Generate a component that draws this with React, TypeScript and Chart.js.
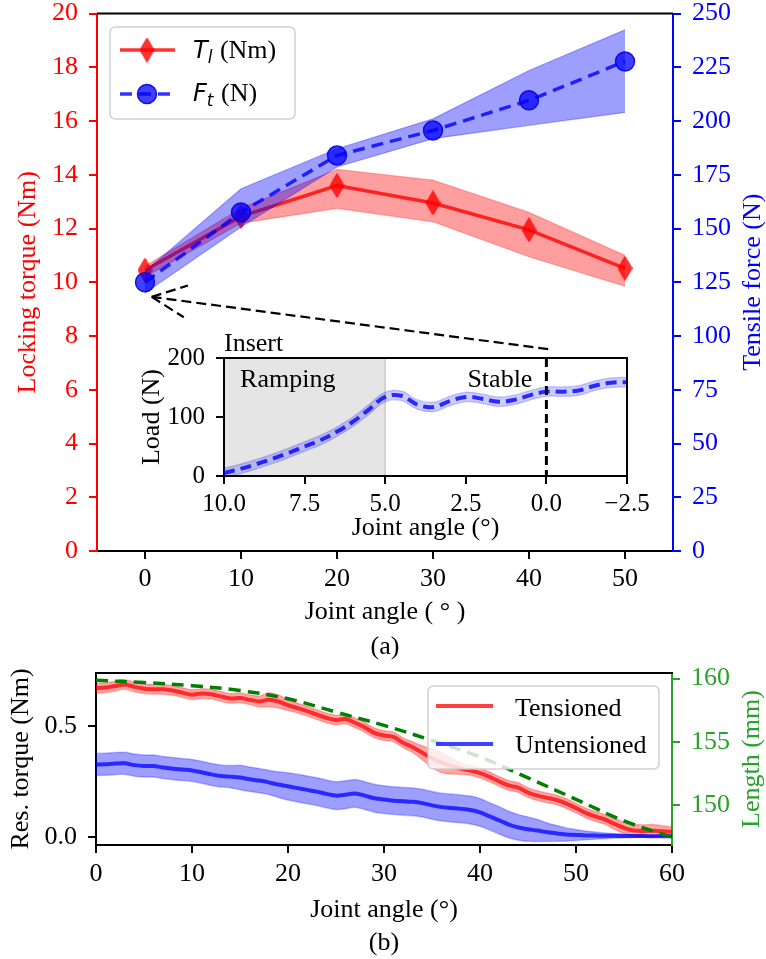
import React, { useEffect, useRef } from "react";
import { Chart, registerables } from "chart.js";

Chart.register(...registerables);

const SERIF = '"Liberation Serif", "Times New Roman", serif';
const MATH = '"DejaVu Sans", sans-serif';

// ---------------- (a) main chart data ----------------
const jointAngleA = [0, 10, 20, 30, 40, 50];
const torqueMean = [10.45, 12.45, 13.6, 12.95, 11.95, 10.52];
const torqueLow = [10.2, 12.2, 12.75, 12.25, 10.95, 9.85];
const torqueHigh = [10.6, 12.75, 14.2, 13.8, 12.6, 11.0];
const forceMean = [125, 157.5, 184, 195.6, 209.6, 227.7];
const forceLow = [120, 150.7, 178.6, 191.8, 198, 204];
const forceHigh = [130, 168.5, 187.1, 201, 223.5, 242.4];
const xTicksA = [0, 10, 20, 30, 40, 50];
const torqueTicks = [0, 2, 4, 6, 8, 10, 12, 14, 16, 18, 20];
const forceTicks = [0, 25, 50, 75, 100, 125, 150, 175, 200, 225, 250];
const arrowTip = { x: 0.7, y: 118.2 };
const arrowTail = { x: 42, y: 93.9 };

// ---------------- inset data ----------------
const insetAngle = [10, 9.5, 9, 8.5, 8, 7.5, 7, 6.5, 6, 5.5, 5, 4.5, 4, 3.5, 3, 2.5, 2, 1.5, 1, 0.5, 0, -0.5, -1, -1.5, -2, -2.5];
const insetLoad = [5, 12, 20, 29, 39, 50, 61, 75, 92, 113, 134, 136, 121, 117, 127, 134, 131, 126, 129, 137, 143, 143, 145, 153, 158, 159];
const insetLoadStd = [8, 8, 8, 8, 8, 8, 8, 8, 8, 8, 8, 8, 8, 8, 8, 8, 8, 8, 8, 8, 8, 8, 8, 8, 8, 8];
const insetTicksX = [10, 7.5, 5, 2.5, 0, -2.5];
const insetTicksY = [0, 100, 200];
const rampStart = 10;
const rampEnd = 5;
const stableMark = 0;

// ---------------- (b) bottom chart data ----------------
const jointAngleB = [
  0, 1, 2, 3, 4, 5, 6, 7, 8, 9, 10, 11, 12, 13, 14, 15, 16, 17, 18, 19, 20,
  21, 22, 23, 24, 25, 26, 27, 28, 29, 30, 31, 32, 33, 34, 35, 36, 37, 38, 39, 40,
  41, 42, 43, 44, 45, 46, 47, 48, 49, 50, 51, 52, 53, 54, 55, 56, 57, 58, 59, 60,
];
const tensionedMean = [
  0.672, 0.675, 0.682, 0.689, 0.678, 0.670, 0.667, 0.667, 0.662, 0.652,
  0.643, 0.648, 0.645, 0.635, 0.626, 0.628, 0.620, 0.612, 0.620, 0.612,
  0.595, 0.582, 0.568, 0.553, 0.538, 0.528, 0.533, 0.515, 0.495, 0.470,
  0.458, 0.452, 0.425, 0.405, 0.380, 0.355, 0.335, 0.320, 0.308, 0.300,
  0.288, 0.271, 0.250, 0.232, 0.222, 0.200, 0.186, 0.176, 0.166, 0.150,
  0.130, 0.108, 0.092, 0.078, 0.058, 0.040, 0.028, 0.026, 0.027, 0.025, 0.022,
];
const tensionedStd = [
  0.022, 0.022, 0.022, 0.022, 0.022, 0.022, 0.022, 0.022, 0.022, 0.022,
  0.022, 0.022, 0.022, 0.022, 0.022, 0.022, 0.022, 0.025, 0.032, 0.030,
  0.024, 0.022, 0.022, 0.022, 0.022, 0.022, 0.022, 0.022, 0.022, 0.022,
  0.022, 0.022, 0.022, 0.024, 0.032, 0.042, 0.045, 0.036, 0.026, 0.022,
  0.022, 0.022, 0.022, 0.022, 0.022, 0.022, 0.022, 0.022, 0.022, 0.022,
  0.022, 0.022, 0.022, 0.022, 0.024, 0.026, 0.028, 0.028, 0.028, 0.025, 0.022,
];
const untensionedMean = [
  0.327, 0.328, 0.331, 0.332, 0.324, 0.320, 0.320, 0.313, 0.308, 0.304,
  0.300, 0.292, 0.282, 0.275, 0.272, 0.268, 0.260, 0.254, 0.246, 0.236,
  0.228, 0.220, 0.212, 0.204, 0.194, 0.186, 0.190, 0.196, 0.186, 0.174,
  0.168, 0.163, 0.160, 0.158, 0.152, 0.142, 0.134, 0.130, 0.126, 0.121,
  0.110, 0.092, 0.074, 0.055, 0.042, 0.034, 0.028, 0.020, 0.015, 0.010,
  0.008, 0.006, 0.005, 0.004, 0.004, 0.003, 0.003, 0.003, 0.002, 0.002, 0.002,
];
const untensionedStd = [
  0.050, 0.050, 0.050, 0.050, 0.050, 0.050, 0.050, 0.050, 0.050, 0.050,
  0.050, 0.050, 0.050, 0.050, 0.050, 0.055, 0.055, 0.055, 0.055, 0.058,
  0.062, 0.063, 0.063, 0.063, 0.063, 0.063, 0.063, 0.063, 0.063, 0.063,
  0.063, 0.063, 0.063, 0.063, 0.063, 0.063, 0.063, 0.063, 0.063, 0.063,
  0.063, 0.062, 0.062, 0.060, 0.058, 0.055, 0.050, 0.042, 0.036, 0.030,
  0.025, 0.020, 0.016, 0.013, 0.010, 0.008, 0.006, 0.005, 0.004, 0.003, 0.002,
];
const lengthAngle = [0, 5, 10, 15, 20, 25, 30, 35, 40, 45, 50, 55, 60];
const lengthMm = [159.87, 159.68, 159.44, 159.05, 158.4, 157.35, 156.3, 155.1, 153.8, 152.15, 150.45, 148.75, 147.45];
const xTicksB = [0, 10, 20, 30, 40, 50, 60];
const resTorqueTicks = [0, 0.5];
const lengthTicks = [150, 155, 160];

// ---------------- helpers ----------------
const RED = "#ff0000";
const BLUE = "#0000ff";
const GREEN_AX = "#2ca02c";
const GREEN_LINE = "#008000";

const toPts = (xs: number[], ys: number[]) => xs.map((x, i) => ({ x, y: ys[i] }));
const shift = (m: number[], s: number[], k: number) => m.map((v, i) => v + k * s[i]);

function yAxis(o: any) {
  return {
    type: "linear",
    position: o.position,
    min: o.min,
    max: o.max,
    reverse: !!o.reverse,
    afterBuildTicks: (s: any) => {
      s.ticks = o.ticks.map((v: number) => ({ value: v }));
    },
    afterFit: (s: any) => {
      s.width = o.width;
      s.paddingTop = 0;
      s.paddingBottom = 0;
      s.paddingLeft = 0;
      s.paddingRight = 0;
    },
    ticks: {
      color: o.color,
      padding: o.pad,
      autoSkip: false,
      font: { family: SERIF, size: o.font, lineHeight: 1 },
      callback: (v: any) => o.fmt(Number(v)),
    },
    grid: {
      display: true,
      drawOnChartArea: false,
      drawTicks: true,
      tickLength: 8,
      tickWidth: 2,
      lineWidth: 2,
      tickColor: o.borderColor || o.color,
      color: o.borderColor || o.color,
    },
    border: { display: true, color: o.borderColor || o.color, width: 2 },
  };
}

function xAxis(o: any) {
  return {
    type: "linear",
    position: "bottom",
    min: o.min,
    max: o.max,
    reverse: !!o.reverse,
    afterBuildTicks: (s: any) => {
      s.ticks = o.ticks.map((v: number) => ({ value: v }));
    },
    afterFit: (s: any) => {
      s.height = o.height;
      s.paddingTop = 0;
      s.paddingBottom = 0;
      s.paddingLeft = 0;
      s.paddingRight = 0;
    },
    ticks: {
      color: "#000",
      padding: o.pad,
      autoSkip: false,
      maxRotation: 0,
      minRotation: 0,
      font: { family: SERIF, size: o.font },
      callback: (v: any) => o.fmt(Number(v)),
    },
    grid: {
      display: true,
      drawOnChartArea: false,
      drawTicks: true,
      tickLength: 8,
      tickWidth: 2,
      lineWidth: 2,
      tickColor: "#000",
      color: "#000",
    },
    border: { display: true, color: "#000", width: 2 },
  };
}

function line(ctx: CanvasRenderingContext2D, x1: number, y1: number, x2: number, y2: number, color: string, w: number, dash: number[] = []) {
  ctx.save();
  ctx.strokeStyle = color;
  ctx.lineWidth = w;
  ctx.setLineDash(dash);
  ctx.beginPath();
  ctx.moveTo(x1, y1);
  ctx.lineTo(x2, y2);
  ctx.stroke();
  ctx.restore();
}

function text(ctx: CanvasRenderingContext2D, s: string, x: number, y: number, font: string, color: string, align: CanvasTextAlign = "center", baseline: CanvasTextBaseline = "middle", rot = 0) {
  ctx.save();
  ctx.translate(x, y);
  if (rot) ctx.rotate(rot);
  ctx.font = font;
  ctx.fillStyle = color;
  ctx.textAlign = align;
  ctx.textBaseline = baseline;
  ctx.fillText(s, 0, 0);
  ctx.restore();
}

function legendBox(ctx: CanvasRenderingContext2D, x: number, y: number, w: number, h: number) {
  const r = 6;
  ctx.save();
  ctx.beginPath();
  ctx.moveTo(x + r, y);
  ctx.lineTo(x + w - r, y);
  ctx.quadraticCurveTo(x + w, y, x + w, y + r);
  ctx.lineTo(x + w, y + h - r);
  ctx.quadraticCurveTo(x + w, y + h, x + w - r, y + h);
  ctx.lineTo(x + r, y + h);
  ctx.quadraticCurveTo(x, y + h, x, y + h - r);
  ctx.lineTo(x, y + r);
  ctx.quadraticCurveTo(x, y, x + r, y);
  ctx.closePath();
  ctx.fillStyle = "rgba(255,255,255,0.8)";
  ctx.fill();
  ctx.strokeStyle = "rgba(204,204,204,0.9)";
  ctx.lineWidth = 1.5;
  ctx.stroke();
  ctx.restore();
}

function mathLabel(ctx: CanvasRenderingContext2D, x: number, base: number, main: string, sub: string, rest: string) {
  ctx.save();
  ctx.fillStyle = "#000";
  ctx.textAlign = "left";
  ctx.textBaseline = "alphabetic";
  ctx.font = `italic 24px ${MATH}`;
  ctx.fillText(main, x, base);
  const w1 = ctx.measureText(main).width;
  ctx.font = `italic 17px ${MATH}`;
  ctx.fillText(sub, x + w1, base + 5);
  const w2 = ctx.measureText(sub).width;
  ctx.font = `26px ${SERIF}`;
  ctx.fillText(rest, x + w1 + w2 + 1, base);
  ctx.restore();
}

function makeDiamond(): HTMLCanvasElement {
  const c = document.createElement("canvas");
  c.width = 15;
  c.height = 25;
  const g = c.getContext("2d")!;
  g.beginPath();
  g.moveTo(7.5, 0.5);
  g.lineTo(14.5, 12.5);
  g.lineTo(7.5, 24.5);
  g.lineTo(0.5, 12.5);
  g.closePath();
  g.fillStyle = "rgba(255,0,0,0.8)";
  g.fill();
  g.strokeStyle = "rgba(255,0,0,0.9)";
  g.lineWidth = 1;
  g.stroke();
  return c;
}

const baseOpts = {
  responsive: false,
  animation: false as const,
  devicePixelRatio: 1,
  events: [] as any[],
  plugins: { legend: { display: false }, tooltip: { enabled: false } },
};

// ---------------- chart builders ----------------
function buildMain(canvas: HTMLCanvasElement) {
  const diamond = makeDiamond();
  const decor = {
    id: "mainDecor",
    afterDraw(chart: any) {
      const { ctx, chartArea: a, scales } = chart;
      const x = scales.x;
      const y1 = scales.y1;
      line(ctx, a.left, a.top, a.right, a.top, "#000", 2);

      // annotation arrow
      const tx = x.getPixelForValue(arrowTip.x);
      const ty = y1.getPixelForValue(arrowTip.y);
      const ex = x.getPixelForValue(arrowTail.x);
      const ey = y1.getPixelForValue(arrowTail.y);
      line(ctx, ex, ey, tx, ty, "#000", 2.2, [10, 5]);
      const th = Math.atan2(ey - ty, ex - tx);
      const hl = 38;
      const da = (25 * Math.PI) / 180;
      line(ctx, tx, ty, tx + hl * Math.cos(th - da), ty + hl * Math.sin(th - da), "#000", 2.2, [10, 5]);
      line(ctx, tx, ty, tx + hl * Math.cos(th + da), ty + hl * Math.sin(th + da), "#000", 2.2, [10, 5]);

      // axis titles
      const midY = (a.top + a.bottom) / 2;
      const midX = (a.left + a.right) / 2;
      text(ctx, "Locking torque (Nm)", 28, midY, `26px ${SERIF}`, RED, "center", "middle", -Math.PI / 2);
      text(ctx, "Tensile force (N)", 753, midY, `26px ${SERIF}`, BLUE, "center", "middle", -Math.PI / 2);
      text(ctx, "Joint angle ( \u00B0 )", midX, 612, `26px ${SERIF}`, "#000");
      text(ctx, "(a)", midX, 647, `26px ${SERIF}`, "#000");

      // legend
      legendBox(ctx, 110, 27, 185, 92);
      line(ctx, 120, 50, 175, 50, "rgba(255,0,0,0.8)", 3.5);
      ctx.drawImage(diamond, 147 - 7.5, 50 - 12.5);
      mathLabel(ctx, 193, 58, "T", "l", " (Nm)");
      line(ctx, 120, 94, 175, 94, "rgba(0,0,255,0.8)", 3.5, [12, 7]);
      ctx.save();
      ctx.beginPath();
      ctx.arc(147, 94, 9.5, 0, Math.PI * 2);
      ctx.fillStyle = "rgba(0,0,255,0.75)";
      ctx.fill();
      ctx.strokeStyle = "rgba(0,0,220,0.9)";
      ctx.lineWidth = 1.5;
      ctx.stroke();
      ctx.restore();
      mathLabel(ctx, 193, 101, "F", "t", " (N)");
    },
  };

  return new Chart(canvas, {
    type: "line",
    data: {
      datasets: [
        {
          data: toPts(jointAngleA, torqueHigh),
          yAxisID: "y",
          fill: "+1",
          backgroundColor: "rgba(255,0,0,0.38)",
          borderColor: "rgba(255,0,0,0.3)",
          borderWidth: 1.2,
          pointRadius: 0,
          order: 6,
        },
        {
          data: toPts(jointAngleA, torqueLow),
          yAxisID: "y",
          fill: false,
          borderColor: "rgba(255,0,0,0.3)",
          borderWidth: 1.2,
          pointRadius: 0,
          order: 6,
        },
        {
          data: toPts(jointAngleA, torqueMean),
          yAxisID: "y",
          fill: false,
          borderColor: "rgba(255,0,0,0.8)",
          borderWidth: 3.5,
          pointStyle: diamond as any,
          pointRadius: 10,
          order: 5,
        },
        {
          data: toPts(jointAngleA, forceHigh),
          yAxisID: "y1",
          fill: "+1",
          backgroundColor: "rgba(0,0,255,0.38)",
          borderColor: "rgba(0,0,255,0.3)",
          borderWidth: 1.2,
          pointRadius: 0,
          order: 4,
        },
        {
          data: toPts(jointAngleA, forceLow),
          yAxisID: "y1",
          fill: false,
          borderColor: "rgba(0,0,255,0.3)",
          borderWidth: 1.2,
          pointRadius: 0,
          order: 4,
        },
        {
          data: toPts(jointAngleA, forceMean),
          yAxisID: "y1",
          fill: false,
          borderColor: "rgba(0,0,255,0.8)",
          borderWidth: 3.5,
          borderDash: [12, 7],
          pointStyle: "circle",
          pointRadius: 9.5,
          pointBackgroundColor: "rgba(0,0,255,0.75)",
          pointBorderColor: "rgba(0,0,220,0.9)",
          pointBorderWidth: 1.5,
          order: 3,
        },
      ],
    } as any,
    options: {
      ...baseOpts,
      layout: { padding: { top: 13, left: 0, right: 0, bottom: 0 } },
      scales: {
        x: xAxis({ min: -5, max: 55, ticks: xTicksA, fmt: (v: number) => String(v), height: 109, font: 26, pad: 5 }),
        y: yAxis({ position: "left", min: 0, max: 20, ticks: torqueTicks, fmt: (v: number) => String(v), color: RED, width: 97, font: 26, pad: 11 }),
        y1: yAxis({ position: "right", min: 0, max: 250, ticks: forceTicks, fmt: (v: number) => String(v), color: BLUE, width: 93, font: 26, pad: 11 }),
      },
    } as any,
    plugins: [decor],
  });
}

function buildInset(canvas: HTMLCanvasElement) {
  const decor = {
    id: "insetDecor",
    beforeDraw(chart: any) {
      const { ctx, chartArea: a, scales } = chart;
      ctx.save();
      ctx.fillStyle = "#fff";
      ctx.fillRect(a.left, a.top, a.right - a.left, a.bottom - a.top);
      const x0 = scales.x.getPixelForValue(rampStart);
      const x1 = scales.x.getPixelForValue(rampEnd);
      ctx.fillStyle = "#e5e5e5";
      ctx.fillRect(Math.min(x0, x1), a.top, Math.abs(x1 - x0), a.bottom - a.top);
      ctx.restore();
      line(ctx, x1, a.top, x1, a.bottom, "#cccccc", 1.5);
    },
    afterDatasetsDraw(chart: any) {
      const { ctx, chartArea: a, scales } = chart;
      const xs = scales.x.getPixelForValue(stableMark);
      line(ctx, xs, a.top, xs, a.bottom, "#000", 3, [9, 5]);
    },
    afterDraw(chart: any) {
      const { ctx, chartArea: a, scales } = chart;
      line(ctx, a.left - 1, a.top, a.right + 1, a.top, "#000", 2);
      line(ctx, a.right, a.top, a.right, a.bottom, "#000", 2);
      const xs = scales.x;
      const ys = scales.y;
      text(ctx, "Insert", xs.getPixelForValue(10), ys.getPixelForValue(224), `26px ${SERIF}`, "#000", "left");
      text(ctx, "Ramping", xs.getPixelForValue(9.5), ys.getPixelForValue(162), `26px ${SERIF}`, "#000", "left");
      text(ctx, "Stable", xs.getPixelForValue(2.45), ys.getPixelForValue(162), `26px ${SERIF}`, "#000", "left");
      text(ctx, "Load (N)", 12, (a.top + a.bottom) / 2, `26px ${SERIF}`, "#000", "center", "middle", -Math.PI / 2);
      text(ctx, "Joint angle (\u00B0)", (a.left + a.right) / 2, 198, `26px ${SERIF}`, "#000");
    },
  };

  return new Chart(canvas, {
    type: "line",
    data: {
      datasets: [
        {
          data: toPts(insetAngle, shift(insetLoad, insetLoadStd, 1)),
          fill: "+1",
          backgroundColor: "rgba(0,0,255,0.2)",
          borderColor: "rgba(0,0,255,0.18)",
          borderWidth: 1.5,
          pointRadius: 0,
          tension: 0.4,
          order: 3,
        },
        {
          data: toPts(insetAngle, shift(insetLoad, insetLoadStd, -1)),
          fill: false,
          borderColor: "rgba(0,0,255,0.18)",
          borderWidth: 1.5,
          pointRadius: 0,
          tension: 0.4,
          order: 3,
        },
        {
          data: toPts(insetAngle, insetLoad),
          fill: false,
          borderColor: "rgba(0,0,255,0.8)",
          borderWidth: 4,
          borderDash: [11, 6],
          pointRadius: 0,
          tension: 0.4,
          order: 2,
        },
      ],
    } as any,
    options: {
      ...baseOpts,
      layout: { padding: { top: 28, right: 33, left: 0, bottom: 0 } },
      scales: {
        x: xAxis({
          min: -2.5,
          max: 10,
          reverse: true,
          ticks: insetTicksX,
          fmt: (v: number) => v.toFixed(1).replace("-", "\u2212"),
          height: 69,
          font: 25,
          pad: 5,
        }),
        y: yAxis({ position: "left", min: 0, max: 200, ticks: insetTicksY, fmt: (v: number) => String(v), color: "#000", width: 84, font: 25, pad: 11 }),
      },
    } as any,
    plugins: [decor],
  });
}

function buildBottom(canvas: HTMLCanvasElement) {
  const decor = {
    id: "bottomDecor",
    afterDraw(chart: any) {
      const { ctx, chartArea: a } = chart;
      line(ctx, a.left - 1, a.top, a.right + 1, a.top, "#000", 2);
      const midY = (a.top + a.bottom) / 2;
      const midX = (a.left + a.right) / 2;
      text(ctx, "Res. torque (Nm)", 21, midY, `26px ${SERIF}`, "#000", "center", "middle", -Math.PI / 2);
      text(ctx, "Length (mm)", 752, midY, `26px ${SERIF}`, GREEN_AX, "center", "middle", -Math.PI / 2);
      text(ctx, "Joint angle (\u00B0)", midX, 250, `26px ${SERIF}`, "#000");
      text(ctx, "(b)", midX, 283, `26px ${SERIF}`, "#000");

      legendBox(ctx, 428, 26, 231, 83);
      line(ctx, 436, 46, 493, 46, "rgba(255,0,0,0.75)", 4);
      text(ctx, "Tensioned", 515, 56, `26px ${SERIF}`, "#000", "left", "alphabetic");
      line(ctx, 436, 84, 493, 84, "rgba(0,0,255,0.75)", 4);
      text(ctx, "Untensioned", 515, 93, `26px ${SERIF}`, "#000", "left", "alphabetic");
    },
  };

  return new Chart(canvas, {
    type: "line",
    data: {
      datasets: [
        {
          data: toPts(jointAngleB, shift(tensionedMean, tensionedStd, 1)),
          yAxisID: "y",
          fill: "+1",
          backgroundColor: "rgba(255,0,0,0.35)",
          borderColor: "rgba(255,0,0,0.25)",
          borderWidth: 1.5,
          pointRadius: 0,
          tension: 0.3,
          order: 8,
        },
        {
          data: toPts(jointAngleB, shift(tensionedMean, tensionedStd, -1)),
          yAxisID: "y",
          fill: false,
          borderColor: "rgba(255,0,0,0.25)",
          borderWidth: 1.5,
          pointRadius: 0,
          tension: 0.3,
          order: 8,
        },
        {
          data: toPts(jointAngleB, tensionedMean),
          yAxisID: "y",
          fill: false,
          borderColor: "rgba(255,0,0,0.75)",
          borderWidth: 4,
          pointRadius: 0,
          tension: 0.3,
          order: 7,
        },
        {
          data: toPts(jointAngleB, shift(untensionedMean, untensionedStd, 1)),
          yAxisID: "y",
          fill: "+1",
          backgroundColor: "rgba(0,0,255,0.38)",
          borderColor: "rgba(0,0,255,0.25)",
          borderWidth: 1.5,
          pointRadius: 0,
          tension: 0.3,
          order: 6,
        },
        {
          data: toPts(jointAngleB, shift(untensionedMean, untensionedStd, -1)),
          yAxisID: "y",
          fill: false,
          borderColor: "rgba(0,0,255,0.25)",
          borderWidth: 1.5,
          pointRadius: 0,
          tension: 0.3,
          order: 6,
        },
        {
          data: toPts(jointAngleB, untensionedMean),
          yAxisID: "y",
          fill: false,
          borderColor: "rgba(0,0,255,0.75)",
          borderWidth: 4,
          pointRadius: 0,
          tension: 0.3,
          order: 5,
        },
        {
          data: toPts(lengthAngle, lengthMm),
          yAxisID: "y1",
          fill: false,
          borderColor: GREEN_LINE,
          borderWidth: 3.5,
          borderDash: [12, 7],
          pointRadius: 0,
          tension: 0.4,
          order: 1,
        },
      ],
    } as any,
    options: {
      ...baseOpts,
      layout: { padding: { top: 13, left: 0, right: 0, bottom: 0 } },
      scales: {
        x: xAxis({ min: 0, max: 60, ticks: xTicksB, fmt: (v: number) => String(v), height: 114, font: 26, pad: 6 }),
        y: yAxis({ position: "left", min: -0.0375, max: 0.741, ticks: resTorqueTicks, fmt: (v: number) => v.toFixed(1), color: "#000", width: 96, font: 26, pad: 11 }),
        y1: yAxis({ position: "right", min: 146.84, max: 160.44, ticks: lengthTicks, fmt: (v: number) => String(v), color: GREEN_AX, width: 94, font: 26, pad: 11 }),
      },
    } as any,
    plugins: [decor],
  });
}

export default function App() {
  const mainRef = useRef<HTMLCanvasElement>(null);
  const insetRef = useRef<HTMLCanvasElement>(null);
  const bottomRef = useRef<HTMLCanvasElement>(null);

  useEffect(() => {
    const charts: Chart[] = [];
    if (mainRef.current) charts.push(buildMain(mainRef.current));
    if (insetRef.current) charts.push(buildInset(insetRef.current));
    if (bottomRef.current) charts.push(buildBottom(bottomRef.current));
    return () => charts.forEach((c) => c.destroy());
  }, []);

  return (
    <div style={{ position: "absolute", left: 0, top: 0, width: 766, height: 959, background: "#fff", overflow: "hidden" }}>
      <canvas ref={mainRef} width={766} height={660} style={{ position: "absolute", left: 0, top: 0 }} />
      <canvas ref={insetRef} width={520} height={215} style={{ position: "absolute", left: 140, top: 330 }} />
      <canvas ref={bottomRef} width={766} height={299} style={{ position: "absolute", left: 0, top: 660 }} />
    </div>
  );
}
